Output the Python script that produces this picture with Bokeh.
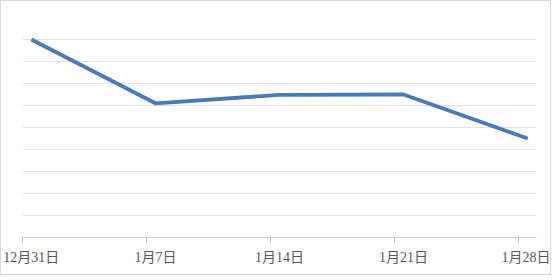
from bokeh.plotting import figure
from bokeh.models import FixedTicker, Range1d
from bokeh.embed import file_html
from bokeh.resources import INLINE

# data
categories = ["12月31日", "1月7日", "1月14日", "1月21日", "1月28日"]
day_offsets = [0, 7, 14, 21, 28]          # days after 12月31日
values = [9.0, 6.1, 6.48, 6.5, 4.5]

x_pts = [d + 0.5 for d in day_offsets]     # points sit in the middle of their day

p = figure(width=551, height=275, output_backend="svg", toolbar_location=None,
           x_range=Range1d(0, 29), y_range=Range1d(0, 10),
           min_border_left=21, min_border_right=16, min_border_top=16, min_border_bottom=39,
           styles={"border": "1px solid #d9d9d9"})
p.outline_line_color = None
p.background_fill_color = "white"
p.border_fill_color = "white"

p.line(x_pts, values, line_color="#4a7ab5", line_width=3.8, line_join="round")

xax = p.xaxis[0]
xax.ticker = FixedTicker(ticks=x_pts, minor_ticks=day_offsets)
xax.major_label_overrides = {x: c for x, c in zip(x_pts, categories)}
xax.major_tick_line_color = None
xax.major_tick_out = 0
xax.major_tick_in = 0
xax.minor_tick_line_color = "#bfbfbf"
xax.minor_tick_out = 5
xax.minor_tick_in = 0
xax.axis_line_color = "#d0d0d0"
xax.major_label_text_font = "Liberation Serif, Noto Sans CJK SC"
xax.major_label_text_font_size = "14px"
xax.major_label_text_color = "#595959"
xax.major_label_standoff = 7

p.yaxis.visible = False
p.ygrid.ticker = FixedTicker(ticks=list(range(0, 11)))
p.ygrid.grid_line_color = "#e3e3e3"
p.xgrid.grid_line_color = None

open("out.html", "w").write(file_html(p, INLINE))
